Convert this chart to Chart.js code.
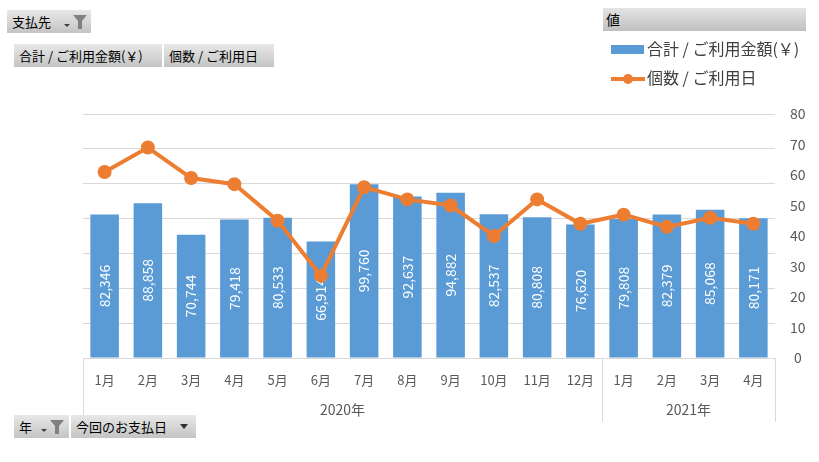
<!DOCTYPE html>
<html><head><meta charset="utf-8">
<script src="https://cdn.jsdelivr.net/npm/chart.js@4.4.1/dist/chart.umd.min.js"></script>
<style>
body{margin:0;background:#fff;font-family:"Noto Sans CJK JP","Noto Sans",sans-serif;}
#wrap{position:relative;width:819px;height:462px;overflow:hidden;background:#fff;}
canvas{position:absolute;left:0;top:0;}
.btn{position:absolute;height:23px;line-height:23px;font-size:13px;color:#000;background:linear-gradient(to bottom,#e8e8e8,#c4c4c4);box-sizing:border-box;padding-left:5px;white-space:nowrap;}
.leg{position:absolute;font-size:16px;color:#404040;white-space:nowrap;line-height:20px;}
</style></head>
<body><div id="wrap">
<canvas id="c" width="819" height="462"></canvas>
<div class="btn" style="left:7px;top:10px;width:84px;">支払先
 <svg width="28" height="16" style="position:absolute;left:54px;top:4px" viewBox="0 0 28 16"><path d="M3 10 L9 10 L6 13 Z" fill="#404040"/><path d="M12 1 L26 1 L21 7 L21 15 L17 15 L17 7 Z" fill="#808080"/></svg></div>
<div class="btn" style="left:14px;top:44px;width:148px;">合計 / ご利用金額(￥)</div>
<div class="btn" style="left:164px;top:44px;width:110px;">個数 / ご利用日</div>
<div class="btn" style="left:603px;top:8px;width:203px;font-size:14px;padding-left:3px;background:linear-gradient(to bottom,#e4e4e4,#c0c0c0);">値</div>
<div class="leg" style="left:611px;top:38px;"><span style="display:inline-block;width:33px;height:9px;background:#5b9bd5;vertical-align:middle;margin-right:3px;position:relative;top:-1px"></span>合計 / ご利用金額(￥)</div>
<div class="leg" style="left:611px;top:67px;"><svg width="36" height="12" style="vertical-align:middle;position:relative;top:-1px"><line x1="0" y1="6" x2="34" y2="6" stroke="#ed7d31" stroke-width="4"/><circle cx="17" cy="6" r="5" fill="#ed7d31"/></svg>個数 / ご利用日</div>
<div class="btn" style="left:14px;top:415px;width:55px;">年
 <svg width="28" height="16" style="position:absolute;left:24px;top:4px" viewBox="0 0 28 16"><path d="M3 10 L9 10 L6 13 Z" fill="#404040"/><path d="M12 1 L26 1 L21 7 L21 15 L17 15 L17 7 Z" fill="#808080"/></svg></div>
<div class="btn" style="left:71px;top:415px;width:125px;">今回のお支払日<svg width="10" height="8" style="position:absolute;left:108px;top:8px" viewBox="0 0 10 8"><path d="M1 1 L9 1 L5 6 Z" fill="#303030"/></svg></div>
</div>
<script>
const months = ['1月','2月','3月','4月','5月','6月','7月','8月','9月','10月','11月','12月','1月','2月','3月','4月'];
const years = ['2020年','2021年'];
const yearSpans = [12, 4];
const amounts = [82346,88858,70744,79418,80533,66914,99760,92637,94882,82537,80808,76620,79808,82379,85068,80171];
const counts = [61,69,59,57,45,27,56,52,50,40,52,44,47,43,46,44];
const amountAxis = {min:0, max:140000, step:20000};
const countAxis = {min:0, max:80, step:10};

const FONT = '"Noto Sans CJK JP","Noto Sans",sans-serif';
const GRID = '#d9d9d9';

const barLabels = {
  id:'barLabels',
  afterDatasetDraw(chart, args){
    if(args.index!==0) return;
    const ctx = chart.ctx;
    ctx.save();
    ctx.fillStyle = '#ffffff';
    ctx.font = '14px ' + FONT;
    ctx.textAlign = 'center';
    ctx.textBaseline = 'middle';
    args.meta.data.forEach((el,i)=>{
      const cy = (el.y + el.base)/2;
      ctx.save();
      ctx.translate(el.x, cy);
      ctx.rotate(-Math.PI/2);
      ctx.fillText(amounts[i].toLocaleString('en-US'), 0, 0);
      ctx.restore();
    });
    ctx.restore();
  }
};

const groups = {
  id:'groups',
  afterDraw(chart){
    const ctx = chart.ctx, a = chart.chartArea;
    const n = months.length, w = (a.right - a.left)/n;
    ctx.save();
    ctx.strokeStyle = GRID; ctx.lineWidth = 1;
    let start = 0;
    const xs = [a.left];
    yearSpans.forEach(s=>{ start += s; xs.push(a.left + start*w); });
    xs.forEach(x=>{
      ctx.beginPath(); ctx.moveTo(Math.round(x)+0.5, a.bottom); ctx.lineTo(Math.round(x)+0.5, 422); ctx.stroke();
    });
    ctx.fillStyle = '#595959';
    ctx.font = '14px ' + FONT;
    ctx.textAlign = 'center'; ctx.textBaseline = 'middle';
    years.forEach((y,i)=>{
      ctx.fillText(y, (xs[i]+xs[i+1])/2, 410);
    });
    ctx.restore();
  }
};

new Chart(document.getElementById('c'), {
  type:'bar',
  data:{
    labels: months,
    datasets:[
      {type:'bar', label:'合計 / ご利用金額(￥)', data: amounts, yAxisID:'y', backgroundColor:'#5b9bd5', order:2,
       categoryPercentage:1, barPercentage:0.66},
      {type:'line', label:'個数 / ご利用日', data: counts, yAxisID:'y1', borderColor:'#ed7d31', backgroundColor:'#ed7d31',
       borderWidth:4, pointRadius:5, pointHoverRadius:5, tension:0, order:1}
    ]
  },
  options:{
    responsive:false, animation:false, devicePixelRatio:1,
    layout:{padding:{left:83, top:114, right:0, bottom:0}},
    plugins:{legend:{display:false}, tooltip:{enabled:false}},
    scales:{
      x:{
        grid:{display:false, drawTicks:false}, border:{display:false},
        ticks:{color:'#595959', font:{family:FONT, size:13}, padding:14, maxRotation:0, autoSkip:false},
        afterFit(s){ s.height = 104; }
      },
      y:{
        position:'left', min:amountAxis.min, max:amountAxis.max,
        ticks:{display:false, stepSize:amountAxis.step},
        grid:{color:GRID, drawTicks:false}, border:{display:false},
        afterFit(s){ s.width = 0; }
      },
      y1:{
        position:'right', min:countAxis.min, max:countAxis.max,
        ticks:{stepSize:countAxis.step, color:'#595959', font:{family:FONT, size:14}, padding:15, crossAlign:'center'},
        grid:{display:false, drawTicks:false}, border:{display:false},
        afterFit(s){ s.width = 44; }
      }
    }
  },
  plugins:[barLabels, groups]
});
</script>
</body></html>
